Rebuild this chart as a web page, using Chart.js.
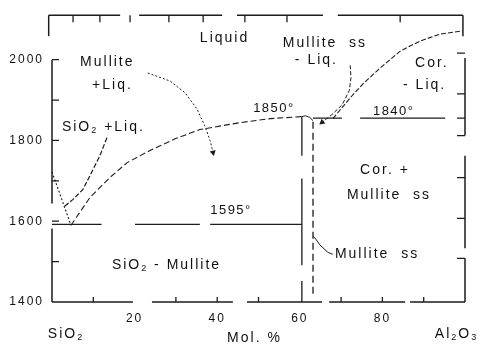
<!DOCTYPE html>
<html>
<head>
<meta charset="utf-8">
<script src="https://cdn.jsdelivr.net/npm/chart.js@4.4.0/dist/chart.umd.min.js"></script>
<style>
  html, body { margin: 0; padding: 0; background: #fff; }
  #wrap { width: 481px; height: 345px; }
</style>
</head>
<body>
<div id="wrap"><canvas id="phase"></canvas></div>
<script>
// SiO2 - Al2O3 phase diagram, x = mol. % Al2O3, y = temperature in deg C

// SiO2 liquidus, melting point down to the eutectic (dotted)
const sio2LiqX = [0, 4.6];
const sio2LiqT = [1722, 1590];
// mullite liquidus, eutectic up to the 1850 point
const mulLiqX = [4.6, 9.2, 14.0, 18.2, 23.7, 29.8, 35.8, 45.5, 52.8, 60.5];
const mulLiqT = [1590, 1659, 1708, 1745, 1775, 1804, 1827, 1844, 1854, 1859];
// corundum liquidus
const corLiqX = [68.0, 72.6, 75.3, 79.4, 84.3, 89.1, 93.9, 99.3];
const corLiqT = [1854, 1910, 1940, 1979, 2021, 2046, 2063, 2071];

// 1595 eutectic line (broken in the print)
const eutLowX = [0, 12, null, 20.1, 35.8, null, 38.3, 60.5];
const eutLowT = 1592;
// 1840 eutectic line
const eutHighX = [63.2, 70.2, null, 74.6, 95.2];
const eutHighT = 1855;

// mullite composition line and mullite ss limit
const mulLineX = 60.5;
const mulLineT = [1859, 1762, null, 1706, 1491, null, 1452, 1400];
const mssLineX = 63.2;
const mssLineT = [1846, 1412];
const mssCapX = [60.5, 61.4, 62.4, 63.2];
const mssCapT = [1859, 1861, 1857, 1849];

// leader lines from the field labels
const arrowMulLiqX = [23.2, 28.6, 32.2, 35.1, 37.0, 38.3, 39.0];
const arrowMulLiqT = [1967, 1947, 1918, 1878, 1836, 1799, 1770];
const arrowMssLiqX = [72.2, 72.4, 72.0, 70.3, 67.8, 65.4];
const arrowMssLiqT = [1986, 1956, 1924, 1889, 1864, 1845];
const leadSio2X = [13.3, 11.6, 9.2, 7.5, 5.1, 2.7];
const leadSio2T = [1807, 1762, 1713, 1679, 1654, 1634];
const leadMssX = [63.2, 63.7, 64.9, 66.8, 68.0];
const leadMssT = [1562, 1558, 1541, 1523, 1518];

// frame, with the gaps of the print
const frameTopX = [-0.8, 16.5, null, 21.1, 41.2, null, 44.8, 65.6, null, 69.2, 99.5];
const frameBottomX = [0, 19.6, null, 24.2, 43.8, null, 47.2, 65.4, null, 67.1, 85.5, null, 86.7, 100];
const frameLeftT = [1400, 1582, null, 1644, 2000];
const frameRightT = [1400, 1508, null, 1533, 1762, null, 1812, 2004];
const stubT = [2058, 2110];

// tick marks (drawn inward)
const leftTicks = [1500, 1600, 1700, 1800, 1900, 2000];
const rightTicks = [1508, 1607, 1708, 1812, 1855, 1915, 2016];
const bottomTicks = [10, 30, 40, 50, 70, 80, 90];
const topTicks = [5.1, 11.6, 18.9, 28.3, 36.6, 46.7, 56.9, 84.3]; // wt. % scale
const xLabels = [20, 40, 60, 80];
const yLabels = [1400, 1600, 1800, 2000];

const ink = '#1c1c1c';

function pts(xs, ts) { return xs.map((x, i) => ({x: x, y: ts[i]})); }
function along(xs, t) { return xs.map(x => x === null ? {x: null, y: null} : {x: x, y: t}); }
function down(x, ts) { return ts.map(t => t === null ? {x: null, y: null} : {x: x, y: t}); }

function line(data, extra) {
  return Object.assign({
    data: data, showLine: true, borderColor: ink, borderWidth: 1.3,
    pointRadius: 0, clip: false, spanGaps: false
  }, extra || {});
}
function arrow(data, angle, extra) {
  const last = data.length - 1;
  return line(data, Object.assign({
    pointRadius: c => c.dataIndex === last ? 3.5 : 0,
    pointStyle: 'triangle', rotation: angle,
    pointBackgroundColor: ink, pointBorderColor: ink, pointBorderWidth: 0
  }, extra));
}

// text placed in data units: [x, T, text, size]
const notes = [
  [35.8, 2043, 'Liquid', 14],
  [55.9, 2031, 'Mullite  ss', 14],
  [58.8, 1989, '- Liq.', 14],
  [87.9, 1982, 'Cor.', 14],
  [85.0, 1928, '- Liq.', 14],
  [6.8, 1984, 'Mullite', 14],
  [9.7, 1928, '+Liq.', 14],
  [2.4, 1824, 'SiO_2 +Liq.', 14],
  [48.7, 1871, '1850°', 13],
  [77.7, 1863, '1840°', 13],
  [38.3, 1617, '1595°', 13],
  [14.5, 1481, 'SiO_2 - Mullite', 14],
  [74.6, 1718, 'Cor. +', 14],
  [71.4, 1656, 'Mullite  ss', 14],
  [68.5, 1508, 'Mullite  ss', 14],
  [-1.0, 1311, 'SiO_2', 14],
  [42.4, 1302, 'Mol. %', 14],
  [92.7, 1311, 'Al_2O_3', 14]
];

function drawRich(ctx, str, px, py, size) {
  const parts = str.split(/_(\d)/);
  let cx = px;
  parts.forEach((p, i) => {
    const sub = i % 2 === 1;
    ctx.font = (sub ? Math.round(size * 0.62) : size) + 'px "Liberation Sans", Arial, sans-serif';
    ctx.fillText(p, cx, sub ? py + 2 : py);
    cx += ctx.measureText(p).width;
  });
}

const extras = {
  id: 'extras',
  beforeDraw(chart) { chart.ctx.letterSpacing = '2px'; },
  afterDatasetsDraw(chart) {
    const ctx = chart.ctx;
    const x = chart.scales.x, y = chart.scales.y;
    ctx.save();
    ctx.strokeStyle = ink;
    ctx.lineWidth = 1.3;
    ctx.beginPath();
    leftTicks.forEach(t => { const p = y.getPixelForValue(t); ctx.moveTo(x.getPixelForValue(0), p); ctx.lineTo(x.getPixelForValue(0) + 7, p); });
    rightTicks.forEach(t => { const p = y.getPixelForValue(t); ctx.moveTo(x.getPixelForValue(100), p); ctx.lineTo(x.getPixelForValue(100) - 8, p); });
    bottomTicks.forEach(v => { const p = x.getPixelForValue(v); ctx.moveTo(p, y.getPixelForValue(1400)); ctx.lineTo(p, y.getPixelForValue(1400) - 5); });
    topTicks.forEach(v => { const p = x.getPixelForValue(v); ctx.moveTo(p, y.getPixelForValue(2110)); ctx.lineTo(p, y.getPixelForValue(2110) + 7); });
    ctx.stroke();

    ctx.fillStyle = '#111';
    ctx.textBaseline = 'alphabetic';
    ctx.textAlign = 'left';
    notes.forEach(n => {
      ctx.letterSpacing = n[3] < 14 ? '1.5px' : '2px';
      drawRich(ctx, n[2], x.getPixelForValue(n[0]), y.getPixelForValue(n[1]), n[3]);
    });
    ctx.restore();
  }
};

new Chart(document.getElementById('phase'), {
  type: 'scatter',
  data: {
    datasets: [
      line(pts(sio2LiqX, sio2LiqT), {borderDash: [2, 2], borderWidth: 1.1}),
      line(pts(mulLiqX, mulLiqT), {borderDash: [6, 3], borderWidth: 1.1}),
      line(pts(corLiqX, corLiqT), {borderDash: [5, 2], borderWidth: 1.1}),
      line(along(eutLowX, eutLowT)),
      line(along(eutHighX, eutHighT)),
      line(down(mulLineX, mulLineT)),
      line(down(mssLineX, mssLineT), {borderDash: [7, 4]}),
      line(pts(mssCapX, mssCapT), {borderWidth: 1}),
      arrow(pts(arrowMulLiqX, arrowMulLiqT), 166, {borderDash: [2, 2], borderWidth: 1}),
      arrow(pts(arrowMssLiqX, arrowMssLiqT), 232, {borderDash: [4, 2], borderWidth: 1}),
      line(pts(leadSio2X, leadSio2T), {borderDash: [5, 2], borderWidth: 1.2}),
      line(pts(leadMssX, leadMssT), {borderWidth: 1}),
      line(along(frameTopX, 2110), {borderWidth: 1.5}),
      line(along(frameBottomX, 1400), {borderWidth: 1.5}),
      line(down(0, frameLeftT), {borderWidth: 1.5}),
      line(down(100, frameRightT), {borderWidth: 1.5}),
      line(down(-0.8, stubT), {borderWidth: 1.5}),
      line(down(99.5, stubT), {borderWidth: 1.5})
    ]
  },
  options: {
    responsive: true,
    maintainAspectRatio: false,
    animation: false,
    events: [],
    layout: { padding: { top: 14, right: 16, left: 0, bottom: 0 } },
    plugins: { legend: { display: false }, tooltip: { enabled: false } },
    scales: {
      x: {
        type: 'linear', min: 0, max: 100,
        grid: { display: false, drawTicks: false },
        border: { display: false },
        ticks: {
          autoSkip: false, maxRotation: 0, padding: 9, color: '#111',
          font: { family: '"Liberation Sans", Arial, sans-serif', size: 12 },
          callback: v => String(v)
        },
        afterBuildTicks: s => { s.ticks = xLabels.map(v => ({value: v})); },
        afterFit: s => { s.height = 43; }
      },
      y: {
        min: 1400, max: 2110,
        grid: { display: false, drawTicks: false },
        border: { display: false },
        ticks: {
          autoSkip: false, padding: 8, color: '#111',
          font: { family: '"Liberation Sans", Arial, sans-serif', size: 12 },
          callback: v => String(v)
        },
        afterBuildTicks: s => { s.ticks = yLabels.map(v => ({value: v})); },
        afterFit: s => { s.width = 52; }
      }
    }
  },
  plugins: [extras]
});
</script>
</body>
</html>
